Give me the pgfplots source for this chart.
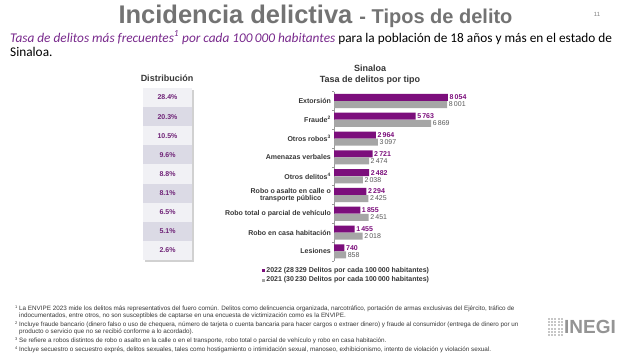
\documentclass[border=0pt]{standalone}
\usepackage{fontspec}
\setmainfont{Liberation Sans}
\newfontfamily\carlito{Carlito}
\usepackage{pgfplots}
\pgfplotsset{compat=1.18}
\definecolor{ipurple}{RGB}{124,14,124}
\definecolor{igray}{RGB}{166,166,166}
\definecolor{spurple}{RGB}{120,40,140}
\definecolor{tpurple}{RGB}{112,36,120}
\definecolor{titlegray}{RGB}{115,115,115}
\definecolor{dark}{RGB}{55,55,55}
\definecolor{rowlight}{RGB}{241,241,245}
\definecolor{rowdark}{RGB}{219,218,229}
\newcommand{\fs}[1]{\fontsize{#1bp}{#1bp}\selectfont}
\newcommand{\fn}[1]{\raisebox{1.5bp}{\fs{4}#1}}
\begin{document}
\begin{tikzpicture}[x=1bp,y=1bp]
\useasboundingbox[fill=white] (0,0) rectangle (628,355);
% title
\node[anchor=base, inner sep=0, text=titlegray] at (315.5,{355-23}) {\fs{25.5}\bfseries Incidencia delictiva\ {\fs{20}- Tipos de delito}};
\node[anchor=base, inner sep=0, text=gray] at (597,{355-16}) {\fs{6}11};
% subtitle
\node[anchor=base west, inner sep=0] at (10,{355-42}) {\carlito\fs{13.3}\textcolor{spurple}{\itshape Tasa de delitos más frecuentes\textsuperscript{1} por cada 100\,000 habitantes} para la población de 18 años y más en el estado de};
\node[anchor=base west, inner sep=0] at (10,{355-56}) {\carlito\fs{13.3}Sinaloa.};
% chart titles
\node[text=dark, inner sep=0] at (370,{355-68}) {\fs{9}\bfseries Sinaloa};
\node[text=dark, inner sep=0] at (370,{355-80}) {\fs{9}\bfseries Tasa de delitos por tipo};
\node[text=dark, inner sep=0] at (167,{355-78}) {\fs{9}\bfseries Distribución};
% distribution table
\fill[black!18] (144.5,{355-89.5}) rectangle (193.5,{355-261.5});
\foreach \v [count=\i from 0] in {28.4\%,20.3\%,10.5\%,9.6\%,8.8\%,8.1\%,6.5\%,5.1\%,2.6\%}{
  \pgfmathsetmacro{\top}{88+\i*19.1}
  \pgfmathtruncatemacro{\odd}{mod(\i,2)}
  \ifnum\odd=0 \def\rc{rowlight}\else \def\rc{rowdark}\fi
  \fill[\rc] (143,{355-\top}) rectangle (192,{355-\top-19.1});
  \node[text=tpurple, inner sep=0] at (167.5,{355-\top-9.55}) {\fs{7}\bfseries \v};
}
% INEGI logo
\foreach \a in {0,...,4}{\foreach \b in {0,...,5}{
  \fill[black!22] ({548+\a*3.2},{355-318-\b*3.2}) rectangle ++(2,-2);}}
\node[anchor=west, inner sep=0, text=black!42] at (564,{355-327}) {\fs{19}\bfseries INEGI};
% footnotes
\begin{scope}[every node/.style={anchor=base west, inner sep=0, text=dark}]
\node at (15,{355-310}) {\fs{6.3}\fn{1} La ENVIPE 2023 mide los delitos más representativos del fuero común. Delitos como delincuencia organizada, narcotráfico, portación de armas exclusivas del Ejército, tráfico de};
\node at (19,{355-317}) {\fs{6.3}indocumentados, entre otros, no son susceptibles de captarse en una encuesta de victimización como es la ENVIPE.};
\node at (15,{355-326}) {\fs{6.3}\fn{2} Incluye fraude bancario (dinero falso o uso de chequera, número de tarjeta o cuenta bancaria para hacer cargos o extraer dinero) y fraude al consumidor (entrega de dinero por un};
\node at (19,{355-333}) {\fs{6.3}producto o servicio que no se recibió conforme a lo acordado).};
\node at (15,{355-342}) {\fs{6.3}\fn{3} Se refiere a robos distintos de robo o asalto en la calle o en el transporte, robo total o parcial de vehículo y robo en casa habitación.};
\node at (15,{355-351}) {\fs{6.3}\fn{4} Incluye secuestro o secuestro exprés, delitos sexuales, tales como hostigamiento o intimidación sexual, manoseo, exhibicionismo, intento de violación y violación sexual.};
\end{scope}
% chart
\begin{axis}[
  at={(334bp,94.2bp)}, anchor=south west,
  scale only axis, width=141.5bp, height=169.2bp,
  xbar, bar width=7bp, bar shift=0pt,
  xmin=0, xmax=10000, ymin=-0.5, ymax=8.5, y dir=reverse,
  axis x line=none, axis y line*=left,
  y axis line style={draw=black!40, line width=0.4pt, -},
  ytick={0,...,8},
  yticklabels={Extorsión,Fraude\textsuperscript{2},Otros robos\textsuperscript{3},Amenazas verbales,Otros delitos\textsuperscript{4},{Robo o asalto en calle o\\transporte público},Robo total o parcial de vehículo,Robo en casa habitación,Lesiones},
  yticklabel style={font=\fs{7}\bfseries, text=dark, align=center, inner sep=0pt, xshift=-3bp},
  major tick length=0bp,
  minor ytick={-0.5,0.5,...,8.5}, minor tick length=2bp,
  tick align=outside,
  every tick/.style={draw=black!40, line width=0.4pt},
  clip=false,
  point meta=explicit symbolic,
  nodes near coords,
  every node near coord/.append style={anchor=west, inner sep=1.5bp, font=\fs{7}\bfseries},
  legend cell align=left,
  legend image code/.code={\fill[#1] (0.5bp,-1.6bp) rectangle (3.7bp,1.6bp);},
  legend style={at={(axis description cs:-0.509,-0.031)}, anchor=north west, draw=none, fill=none, font=\fs{7}\bfseries, text=dark, inner sep=0pt, row sep=1bp, nodes={inner sep=1bp}},
]
\addplot[fill=ipurple, draw=none, every node near coord/.append style={text=ipurple}] coordinates {
  (8054,-0.19) [8\,054]
  (5763,0.81) [5\,763]
  (2964,1.81) [2\,964]
  (2721,2.81) [2\,721]
  (2482,3.81) [2\,482]
  (2294,4.81) [2\,294]
  (1855,5.81) [1\,855]
  (1455,6.81) [1\,455]
  (740,7.81) [740]
};
\addlegendentry{2022 (28\,329 Delitos por cada 100\,000 habitantes)}
\addplot[fill=igray, draw=none, every node near coord/.append style={text=black!65, font=\fs{7}}] coordinates {
  (8001,0.19) [8\,001]
  (6869,1.19) [6\,869]
  (3097,2.19) [3\,097]
  (2474,3.19) [2\,474]
  (2038,4.19) [2\,038]
  (2425,5.19) [2\,425]
  (2451,6.19) [2\,451]
  (2018,7.19) [2\,018]
  (858,8.19) [858]
};
\addlegendentry{2021 (30\,230 Delitos por cada 100\,000 habitantes)}
\end{axis}
\end{tikzpicture}
\end{document}
